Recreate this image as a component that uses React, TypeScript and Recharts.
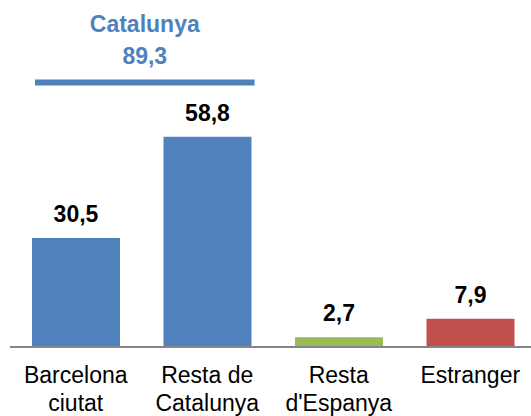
import { BarChart, Bar, XAxis, YAxis, Cell, LabelList, ReferenceLine } from "recharts";

const categories = ["Barcelona\nciutat", "Resta de\nCatalunya", "Resta\nd'Espanya", "Estranger"];
const values = [30.5, 58.8, 2.7, 7.9];
const barColors = ["#4F81BD", "#4F81BD", "#9BBB59", "#C0504D"];

// bracket over the two Catalan bars, in category-index units on a hidden axis
const bracketSpan = [0.19, 1.86];
const bracketLevel = 74;
const bracketTitle = "Catalunya";
const catalunyaTotal = values[0] + values[1];

const data = categories.map((name, i) => ({ name, pos: i + 0.5, value: values[i] }));

const FONT = "'Liberation Sans', Arial, sans-serif";
const BLUE = "#4F81BD";

const fmt = (v: number) => v.toFixed(1).replace(".", ",");

function CategoryTick({ x, y, payload }: any) {
  const lines = String(payload.value).split("\n");
  return (
    <text x={x} y={y + 36} textAnchor="middle" fontFamily={FONT} fontSize={23} fill="#000">
      {lines.map((line, i) => (
        <tspan key={i} x={x} dy={i === 0 ? 0 : 28}>
          {line}
        </tspan>
      ))}
    </text>
  );
}

function BracketLabel({ viewBox }: any) {
  const cx = viewBox.x + (viewBox.width || 0) / 2;
  const y = viewBox.y;
  return (
    <g fontFamily={FONT} fontSize={23} fontWeight="bold" fill={BLUE} textAnchor="middle">
      <text x={cx} y={y - 50}>{bracketTitle}</text>
      <text x={cx} y={y - 18}>{fmt(catalunyaTotal)}</text>
    </g>
  );
}

export default function App() {
  // the original is cropped on the right, so the chart runs a little past the frame
  return (
    <div style={{ position: "absolute", left: 0, top: 0, width: 531, height: 416, overflow: "hidden", background: "#fff" }}>
      <BarChart
        width={536}
        height={416}
        data={data}
        margin={{ top: 61, right: 0, bottom: 0, left: 10 }}
        barSize={88}
      >
        <XAxis
          dataKey="name"
          axisLine={{ stroke: "#868686", strokeWidth: 2 }}
          tickLine={false}
          tickSize={0}
          tickMargin={0}
          height={69}
          interval={0}
          tick={<CategoryTick />}
        />
        <XAxis
          xAxisId="span"
          dataKey="pos"
          type="number"
          domain={[0, 4]}
          allowDataOverflow
          hide
        />
        <YAxis domain={[0, 80]} hide />
        <Bar dataKey="value" isAnimationActive={false}>
          {data.map((_, i) => (
            <Cell key={i} fill={barColors[i]} />
          ))}
          <LabelList
            dataKey="value"
            position="top"
            offset={16}
            formatter={(v: any) => fmt(Number(v))}
            style={{ fontFamily: FONT, fontSize: 23, fontWeight: "bold", fill: "#000" }}
          />
        </Bar>
        <ReferenceLine
          xAxisId="span"
          segment={[
            { x: bracketSpan[0], y: bracketLevel },
            { x: bracketSpan[1], y: bracketLevel },
          ]}
          stroke={BLUE}
          strokeWidth={6}
          label={(props: any) => <BracketLabel {...props} />}
        />
      </BarChart>
    </div>
  );
}
